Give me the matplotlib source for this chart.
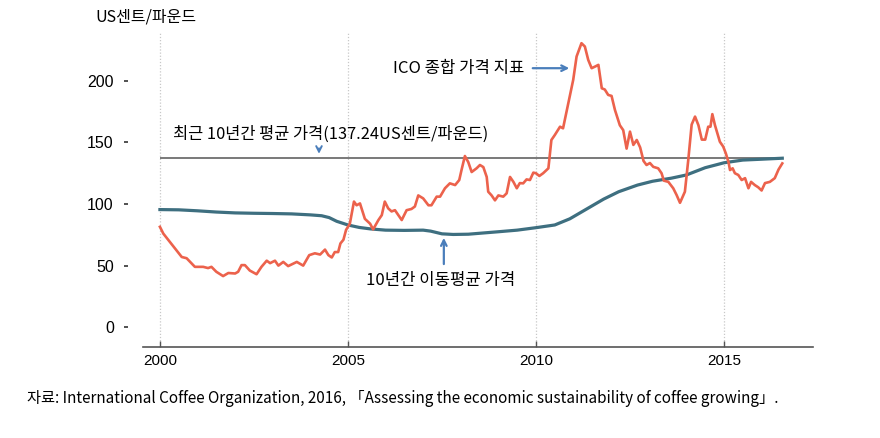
import matplotlib
matplotlib.use("Agg")
import matplotlib.pyplot as plt

plt.rcParams['font.family'] = ['Liberation Sans', 'Noto Sans CJK KR']

# ICO composite indicator price (US cents/lb)
years_ico = [2000.00, 2000.09, 2000.27, 2000.40, 2000.58, 2000.71, 2000.93, 2001.15, 2001.28, 2001.37,
             2001.50, 2001.68, 2001.82, 2002.00, 2002.08, 2002.17, 2002.26, 2002.39, 2002.57, 2002.70,
             2002.84, 2002.93, 2003.06, 2003.15, 2003.28, 2003.41, 2003.64, 2003.81, 2003.97, 2004.12,
             2004.26, 2004.39, 2004.48, 2004.57, 2004.65, 2004.74, 2004.80, 2004.88, 2004.95, 2005.05,
             2005.16, 2005.23, 2005.32, 2005.45, 2005.59, 2005.67, 2005.81, 2005.90, 2005.98, 2006.07,
             2006.16, 2006.25, 2006.43, 2006.56, 2006.69, 2006.78, 2006.87, 2007.00, 2007.14, 2007.22,
             2007.36, 2007.45, 2007.58, 2007.71, 2007.85, 2007.96, 2008.02, 2008.11, 2008.20, 2008.29,
             2008.42, 2008.51, 2008.60, 2008.69, 2008.73, 2008.82, 2008.91, 2009.00, 2009.13, 2009.22,
             2009.31, 2009.40, 2009.49, 2009.57, 2009.66, 2009.75, 2009.84, 2009.93, 2010.00, 2010.09,
             2010.19, 2010.33, 2010.41, 2010.50, 2010.64, 2010.72, 2010.86, 2010.99, 2011.08, 2011.21,
             2011.30, 2011.39, 2011.48, 2011.57, 2011.66, 2011.75, 2011.83, 2011.92, 2012.01, 2012.10,
             2012.23, 2012.32, 2012.41, 2012.50, 2012.59, 2012.68, 2012.77, 2012.86, 2012.94, 2013.03,
             2013.12, 2013.25, 2013.34, 2013.40, 2013.52, 2013.65, 2013.74, 2013.83, 2013.96, 2014.05,
             2014.14, 2014.23, 2014.32, 2014.41, 2014.50, 2014.58, 2014.64, 2014.69, 2014.76, 2014.89,
             2014.98, 2015.05, 2015.12, 2015.16, 2015.23, 2015.29, 2015.38, 2015.47, 2015.56, 2015.65,
             2015.72, 2015.82, 2015.91, 2016.00, 2016.09, 2016.22, 2016.35, 2016.45, 2016.55]
ico_price = [81.5, 76, 69, 64, 57, 56, 49, 49, 48, 49,
             45, 41.5, 44, 43.6, 45, 50.4, 50.4, 46, 43, 49,
             54, 52, 54, 50, 53, 49.6, 53, 50, 58.5, 60,
             59, 63, 58.5, 56.6, 61, 61, 68, 71, 79, 84,
             102, 99, 100.5, 88, 84, 79.4, 87, 91, 102, 96.5,
             94, 95, 87, 95, 96, 98, 107, 104.6, 99, 99,
             106, 106, 112.8, 116.8, 115.4, 119.5, 127.6, 139, 134, 126,
             129, 131.7, 130, 122, 110, 107, 103, 107, 106, 108.7,
             122, 118, 112.8, 117, 116.8, 120, 119.5, 125.5, 125, 122.8,
             125, 129, 152, 156, 162.8, 161.5, 182, 200.8, 219.8, 230.6,
             227.9, 217, 210.3, 211.6, 213, 194, 193, 188.6, 187.8, 176.4,
             164, 160, 145, 158.8, 148, 152, 146, 135, 131.7, 133.3,
             130.2, 129, 125, 119, 118, 112.8, 107.3, 101, 110, 135.8,
             164.5, 171, 164, 152.3, 152.3, 162.8, 162.8, 173, 164, 150.6,
             146.6, 141, 134, 127.6, 129, 125, 123.6, 119.5, 121, 112.8,
             118, 115.4, 113.6, 111, 117, 118, 121, 128, 133]

# 10-year moving average
years_ma = [2000.0, 2000.5, 2001.0, 2001.5, 2002.0, 2002.5, 2003.0, 2003.5, 2004.0, 2004.3,
            2004.5, 2004.7, 2005.0, 2005.3, 2005.6, 2006.0, 2006.5, 2007.0, 2007.2, 2007.5,
            2007.8, 2008.2, 2008.6, 2009.0, 2009.5, 2010.0, 2010.5, 2010.9, 2011.35, 2011.8,
            2012.2, 2012.7, 2013.1, 2013.6, 2014.0, 2014.5, 2015.0, 2015.5, 2016.0, 2016.55]
ma_price = [95.5, 95.3, 94.5, 93.5, 92.8, 92.5, 92.3, 92.0, 91.2, 90.5,
            89, 86, 83, 81, 79.8, 78.8, 78.6, 78.8, 78, 75.8,
            75.3, 75.5, 76.5, 77.5, 78.8, 80.8, 83, 88, 96, 104,
            110, 115.4, 118.5, 121, 123.6, 129.5, 133.5, 135.7, 136.4, 137.2]

avg_10y = 137.24
year_ticks = [2000, 2005, 2010, 2015]
value_ticks = [0, 50, 100, 150, 200]

fig = plt.figure(figsize=(8.8, 4.38), dpi=100)
ax = fig.add_axes([0.1625, 0.208, 0.7615, 0.717])

for yr in year_ticks:
    ax.axvline(yr, color='#c8c8c8', lw=0.9, ls=(0, (1, 1.5)), zorder=0)

ax.hlines(avg_10y, years_ico[0], years_ico[-1], color='#6e6e6e', lw=1.3, zorder=1)
ax.plot(years_ma, ma_price, color='#3e6f80', lw=2.3, zorder=2)
ax.plot(years_ico, ico_price, color='#ec624c', lw=1.9, zorder=3)

ax.set_xlim(1999.55, 2017.37)
ax.set_ylim(-16, 239)
ax.set_xticks(year_ticks)
ax.set_yticks(value_ticks)

for s in ['top', 'right', 'left']:
    ax.spines[s].set_visible(False)
ax.spines['left'].set_position(('outward', 11))
ax.spines['bottom'].set_color('#555555')
ax.spines['bottom'].set_linewidth(1.2)
ax.tick_params(axis='y', length=3, width=1.2, color='#333333', pad=7, labelsize=11.5)
ax.tick_params(axis='x', direction='in', length=4, width=1, color='#555555', pad=5, labelsize=11)

kr = ['Noto Sans CJK KR', 'DejaVu Sans']
arrow_c = '#4a7ebb'

fig.text(0.108, 0.962, 'US센트/파운드', fontsize=11.5, family=kr, va='center', ha='left')

ax.annotate('', xy=(2010.96, 210.3), xytext=(2009.84, 210.3),
            arrowprops=dict(arrowstyle='->', color=arrow_c, lw=1.6))
ax.text(2009.7, 210.3, 'ICO 종합 가격 지표', fontsize=12, family=kr, ha='right', va='center')

ax.annotate('', xy=(2004.23, 138.5), xytext=(2004.23, 147.5),
            arrowprops=dict(arrowstyle='->', color=arrow_c, lw=1.4))
ax.text(2000.35, 156.5, '최근 10년간 평균 가격(137.24US센트/파운드)', fontsize=11.8, family=kr,
        ha='left', va='center')

ax.annotate('', xy=(2007.55, 74.8), xytext=(2007.55, 49),
            arrowprops=dict(arrowstyle='->', color=arrow_c, lw=1.6))
ax.text(2007.46, 38.2, '10년간 이동평균 가격', fontsize=12, family=kr, ha='center', va='center')

fig.text(0.031, 0.09,
         '자료: International Coffee Organization, 2016, 「Assessing the economic sustainability of coffee growing」.',
         fontsize=11, family=kr, va='center', ha='left')

fig.savefig('out.png', dpi=100)
